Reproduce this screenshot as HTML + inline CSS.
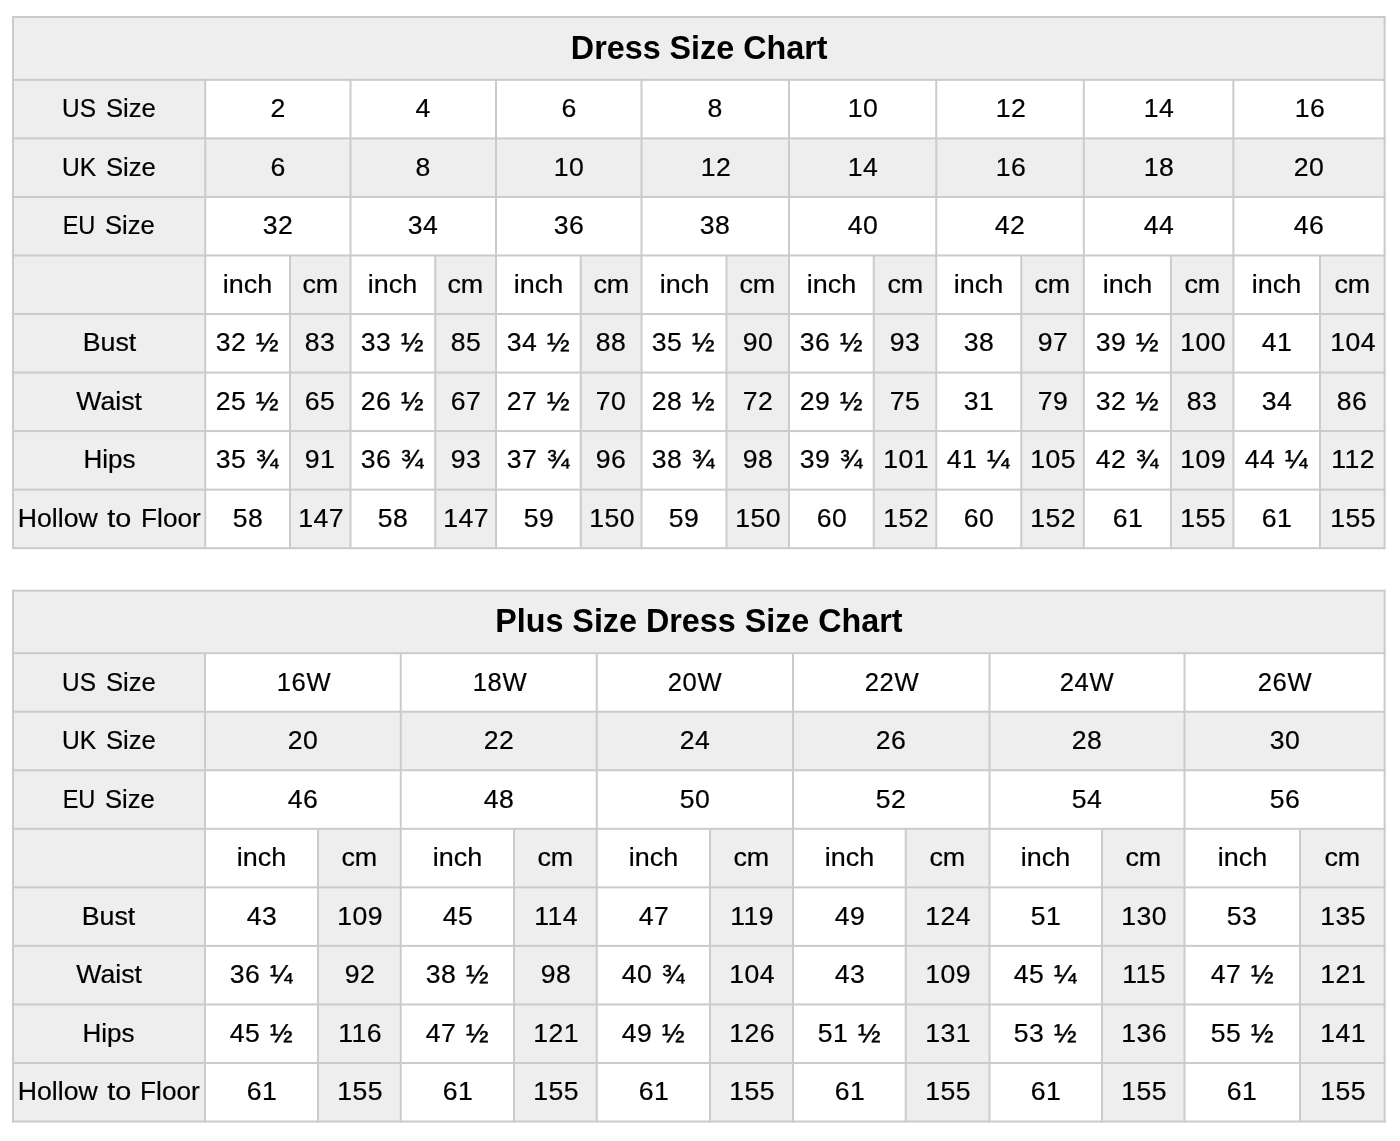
<!DOCTYPE html>
<html><head><meta charset="utf-8"><title>Dress Size Chart</title><style>
html,body{margin:0;padding:0;background:#fff}
body{width:1400px;height:1141px;position:relative;overflow:hidden;font-family:"Liberation Sans",sans-serif;color:#000}
.r,.c{position:absolute;overflow:hidden}
.tx,.tt{position:absolute;left:-50px;right:-50px;text-align:center;white-space:nowrap}
.tx{-webkit-text-stroke:0.2px #000;font-size:24.5px;line-height:30px;margin-top:-23.49px}
.tt{font-size:32px;line-height:40px;font-weight:bold;margin-top:-31.09px}
.w,.sp{display:inline-block;text-align:center;white-space:pre}
.g{display:inline-block;transform-origin:50% 23.49px;margin:0 -20px}
.tg{display:inline-block;transform:scale(1.009,1.06);transform-origin:50% 31.09px}
#pg{position:absolute;left:0;top:0;width:1400px;height:1141px;will-change:transform}
svg{position:absolute;left:0;top:0}
</style></head><body>
<div id="pg">
<div class="c" style="left:13px;top:17px;width:1371.6px;height:62.85px;background:#eeeeee"><span class="tt" style="top:41.70px"><span class="tg">Dress Size Chart</span></span></div>
<div class="c" style="left:13px;top:79.85px;width:192.25px;height:58.54px;background:#eeeeee"><span class="tx" style="top:37.80px"><span class="w" style="width:33.97px"><span class="g" style="transform:scale(0.9982,1.04)">US</span></span><span class="sp" style="width:9.40px"> </span><span class="w" style="width:49.90px"><span class="g" style="transform:scale(1.0470,1.04)">Size</span></span></span></div>
<div class="c" style="left:205.25px;top:79.85px;width:145.25px;height:58.54px;background:#ffffff"><span class="tx" style="top:37.80px"><span class="w" style="width:15.26px"><span class="g" style="transform:scale(1.0862,1.02);letter-spacing:0.421px;position:relative;left:0.23px">2</span></span></span></div>
<div class="c" style="left:350.5px;top:79.85px;width:145.5px;height:58.54px;background:#ffffff"><span class="tx" style="top:37.80px"><span class="w" style="width:15.26px"><span class="g" style="transform:scale(1.0862,1.02);letter-spacing:0.421px;position:relative;left:0.23px">4</span></span></span></div>
<div class="c" style="left:496px;top:79.85px;width:145.5px;height:58.54px;background:#ffffff"><span class="tx" style="top:37.80px"><span class="w" style="width:15.26px"><span class="g" style="transform:scale(1.0862,1.02);letter-spacing:0.421px;position:relative;left:0.23px">6</span></span></span></div>
<div class="c" style="left:641.5px;top:79.85px;width:147.5px;height:58.54px;background:#ffffff"><span class="tx" style="top:37.80px"><span class="w" style="width:15.26px"><span class="g" style="transform:scale(1.0862,1.02);letter-spacing:0.421px;position:relative;left:0.23px">8</span></span></span></div>
<div class="c" style="left:789px;top:79.85px;width:147.25px;height:58.54px;background:#ffffff"><span class="tx" style="top:37.80px"><span class="w" style="width:30.52px"><span class="g" style="transform:scale(1.0862,1.02);letter-spacing:0.421px;position:relative;left:0.73px">10</span></span></span></div>
<div class="c" style="left:936.25px;top:79.85px;width:147.55px;height:58.54px;background:#ffffff"><span class="tx" style="top:37.80px"><span class="w" style="width:30.52px"><span class="g" style="transform:scale(1.0862,1.02);letter-spacing:0.421px;position:relative;left:0.73px">12</span></span></span></div>
<div class="c" style="left:1083.8px;top:79.85px;width:149.6px;height:58.54px;background:#ffffff"><span class="tx" style="top:37.80px"><span class="w" style="width:30.52px"><span class="g" style="transform:scale(1.0862,1.02);letter-spacing:0.421px;position:relative;left:0.73px">14</span></span></span></div>
<div class="c" style="left:1233.4px;top:79.85px;width:151.2px;height:58.54px;background:#ffffff"><span class="tx" style="top:37.80px"><span class="w" style="width:30.52px"><span class="g" style="transform:scale(1.0862,1.02);letter-spacing:0.421px;position:relative;left:0.73px">16</span></span></span></div>
<div class="c" style="left:13px;top:138.39px;width:192.25px;height:58.54px;background:#eeeeee"><span class="tx" style="top:37.80px"><span class="w" style="width:34.20px"><span class="g" style="transform:scale(1.0047,1.04)">UK</span></span><span class="sp" style="width:9.40px"> </span><span class="w" style="width:49.90px"><span class="g" style="transform:scale(1.0470,1.04)">Size</span></span></span></div>
<div class="c" style="left:205.25px;top:138.39px;width:145.25px;height:58.54px;background:#eeeeee"><span class="tx" style="top:37.80px"><span class="w" style="width:15.26px"><span class="g" style="transform:scale(1.0862,1.02);letter-spacing:0.421px;position:relative;left:0.23px">6</span></span></span></div>
<div class="c" style="left:350.5px;top:138.39px;width:145.5px;height:58.54px;background:#eeeeee"><span class="tx" style="top:37.80px"><span class="w" style="width:15.26px"><span class="g" style="transform:scale(1.0862,1.02);letter-spacing:0.421px;position:relative;left:0.23px">8</span></span></span></div>
<div class="c" style="left:496px;top:138.39px;width:145.5px;height:58.54px;background:#eeeeee"><span class="tx" style="top:37.80px"><span class="w" style="width:30.52px"><span class="g" style="transform:scale(1.0862,1.02);letter-spacing:0.421px;position:relative;left:0.73px">10</span></span></span></div>
<div class="c" style="left:641.5px;top:138.39px;width:147.5px;height:58.54px;background:#eeeeee"><span class="tx" style="top:37.80px"><span class="w" style="width:30.52px"><span class="g" style="transform:scale(1.0862,1.02);letter-spacing:0.421px;position:relative;left:0.73px">12</span></span></span></div>
<div class="c" style="left:789px;top:138.39px;width:147.25px;height:58.54px;background:#eeeeee"><span class="tx" style="top:37.80px"><span class="w" style="width:30.52px"><span class="g" style="transform:scale(1.0862,1.02);letter-spacing:0.421px;position:relative;left:0.73px">14</span></span></span></div>
<div class="c" style="left:936.25px;top:138.39px;width:147.55px;height:58.54px;background:#eeeeee"><span class="tx" style="top:37.80px"><span class="w" style="width:30.52px"><span class="g" style="transform:scale(1.0862,1.02);letter-spacing:0.421px;position:relative;left:0.73px">16</span></span></span></div>
<div class="c" style="left:1083.8px;top:138.39px;width:149.6px;height:58.54px;background:#eeeeee"><span class="tx" style="top:37.80px"><span class="w" style="width:30.52px"><span class="g" style="transform:scale(1.0862,1.02);letter-spacing:0.421px;position:relative;left:0.73px">18</span></span></span></div>
<div class="c" style="left:1233.4px;top:138.39px;width:151.2px;height:58.54px;background:#eeeeee"><span class="tx" style="top:37.80px"><span class="w" style="width:30.52px"><span class="g" style="transform:scale(1.0862,1.02);letter-spacing:0.421px;position:relative;left:0.23px">20</span></span></span></div>
<div class="c" style="left:13px;top:196.93px;width:192.25px;height:58.54px;background:#eeeeee"><span class="tx" style="top:37.80px"><span class="w" style="width:32.74px"><span class="g" style="transform:scale(0.9620,1.04)">EU</span></span><span class="sp" style="width:9.40px"> </span><span class="w" style="width:49.90px"><span class="g" style="transform:scale(1.0470,1.04)">Size</span></span></span></div>
<div class="c" style="left:205.25px;top:196.93px;width:145.25px;height:58.54px;background:#ffffff"><span class="tx" style="top:37.80px"><span class="w" style="width:30.52px"><span class="g" style="transform:scale(1.0862,1.02);letter-spacing:0.421px;position:relative;left:0.23px">32</span></span></span></div>
<div class="c" style="left:350.5px;top:196.93px;width:145.5px;height:58.54px;background:#ffffff"><span class="tx" style="top:37.80px"><span class="w" style="width:30.52px"><span class="g" style="transform:scale(1.0862,1.02);letter-spacing:0.421px;position:relative;left:0.23px">34</span></span></span></div>
<div class="c" style="left:496px;top:196.93px;width:145.5px;height:58.54px;background:#ffffff"><span class="tx" style="top:37.80px"><span class="w" style="width:30.52px"><span class="g" style="transform:scale(1.0862,1.02);letter-spacing:0.421px;position:relative;left:0.23px">36</span></span></span></div>
<div class="c" style="left:641.5px;top:196.93px;width:147.5px;height:58.54px;background:#ffffff"><span class="tx" style="top:37.80px"><span class="w" style="width:30.52px"><span class="g" style="transform:scale(1.0862,1.02);letter-spacing:0.421px;position:relative;left:0.23px">38</span></span></span></div>
<div class="c" style="left:789px;top:196.93px;width:147.25px;height:58.54px;background:#ffffff"><span class="tx" style="top:37.80px"><span class="w" style="width:30.52px"><span class="g" style="transform:scale(1.0862,1.02);letter-spacing:0.421px;position:relative;left:0.23px">40</span></span></span></div>
<div class="c" style="left:936.25px;top:196.93px;width:147.55px;height:58.54px;background:#ffffff"><span class="tx" style="top:37.80px"><span class="w" style="width:30.52px"><span class="g" style="transform:scale(1.0862,1.02);letter-spacing:0.421px;position:relative;left:0.23px">42</span></span></span></div>
<div class="c" style="left:1083.8px;top:196.93px;width:149.6px;height:58.54px;background:#ffffff"><span class="tx" style="top:37.80px"><span class="w" style="width:30.52px"><span class="g" style="transform:scale(1.0862,1.02);letter-spacing:0.421px;position:relative;left:0.23px">44</span></span></span></div>
<div class="c" style="left:1233.4px;top:196.93px;width:151.2px;height:58.54px;background:#ffffff"><span class="tx" style="top:37.80px"><span class="w" style="width:30.52px"><span class="g" style="transform:scale(1.0862,1.02);letter-spacing:0.421px;position:relative;left:0.23px">46</span></span></span></div>
<div class="c" style="left:13px;top:255.47px;width:192.25px;height:58.54px;background:#eeeeee"></div>
<div class="c" style="left:205.25px;top:255.47px;width:84.75px;height:58.54px;background:#ffffff"><span class="tx" style="top:37.80px"><span class="w" style="width:49.46px"><span class="g" style="transform:scale(1.1006,1.04)">inch</span></span></span></div>
<div class="c" style="left:290px;top:255.47px;width:60.5px;height:58.54px;background:#eeeeee"><span class="tx" style="top:37.80px"><span class="w" style="width:35.85px"><span class="g" style="transform:scale(1.0976,1.04)">cm</span></span></span></div>
<div class="c" style="left:350.5px;top:255.47px;width:84.75px;height:58.54px;background:#ffffff"><span class="tx" style="top:37.80px"><span class="w" style="width:49.46px"><span class="g" style="transform:scale(1.1006,1.04)">inch</span></span></span></div>
<div class="c" style="left:435.25px;top:255.47px;width:60.75px;height:58.54px;background:#eeeeee"><span class="tx" style="top:37.80px"><span class="w" style="width:35.85px"><span class="g" style="transform:scale(1.0976,1.04)">cm</span></span></span></div>
<div class="c" style="left:496px;top:255.47px;width:84.75px;height:58.54px;background:#ffffff"><span class="tx" style="top:37.80px"><span class="w" style="width:49.46px"><span class="g" style="transform:scale(1.1006,1.04)">inch</span></span></span></div>
<div class="c" style="left:580.75px;top:255.47px;width:60.75px;height:58.54px;background:#eeeeee"><span class="tx" style="top:37.80px"><span class="w" style="width:35.85px"><span class="g" style="transform:scale(1.0976,1.04)">cm</span></span></span></div>
<div class="c" style="left:641.5px;top:255.47px;width:85px;height:58.54px;background:#ffffff"><span class="tx" style="top:37.80px"><span class="w" style="width:49.46px"><span class="g" style="transform:scale(1.1006,1.04)">inch</span></span></span></div>
<div class="c" style="left:726.5px;top:255.47px;width:62.5px;height:58.54px;background:#eeeeee"><span class="tx" style="top:37.80px"><span class="w" style="width:35.85px"><span class="g" style="transform:scale(1.0976,1.04)">cm</span></span></span></div>
<div class="c" style="left:789px;top:255.47px;width:84.75px;height:58.54px;background:#ffffff"><span class="tx" style="top:37.80px"><span class="w" style="width:49.46px"><span class="g" style="transform:scale(1.1006,1.04)">inch</span></span></span></div>
<div class="c" style="left:873.75px;top:255.47px;width:62.5px;height:58.54px;background:#eeeeee"><span class="tx" style="top:37.80px"><span class="w" style="width:35.85px"><span class="g" style="transform:scale(1.0976,1.04)">cm</span></span></span></div>
<div class="c" style="left:936.25px;top:255.47px;width:85px;height:58.54px;background:#ffffff"><span class="tx" style="top:37.80px"><span class="w" style="width:49.46px"><span class="g" style="transform:scale(1.1006,1.04)">inch</span></span></span></div>
<div class="c" style="left:1021.25px;top:255.47px;width:62.55px;height:58.54px;background:#eeeeee"><span class="tx" style="top:37.80px"><span class="w" style="width:35.85px"><span class="g" style="transform:scale(1.0976,1.04)">cm</span></span></span></div>
<div class="c" style="left:1083.8px;top:255.47px;width:87.1px;height:58.54px;background:#ffffff"><span class="tx" style="top:37.80px"><span class="w" style="width:49.46px"><span class="g" style="transform:scale(1.1006,1.04)">inch</span></span></span></div>
<div class="c" style="left:1170.9px;top:255.47px;width:62.5px;height:58.54px;background:#eeeeee"><span class="tx" style="top:37.80px"><span class="w" style="width:35.85px"><span class="g" style="transform:scale(1.0976,1.04)">cm</span></span></span></div>
<div class="c" style="left:1233.4px;top:255.47px;width:86.6px;height:58.54px;background:#ffffff"><span class="tx" style="top:37.80px"><span class="w" style="width:49.46px"><span class="g" style="transform:scale(1.1006,1.04)">inch</span></span></span></div>
<div class="c" style="left:1320px;top:255.47px;width:64.6px;height:58.54px;background:#eeeeee"><span class="tx" style="top:37.80px"><span class="w" style="width:35.85px"><span class="g" style="transform:scale(1.0976,1.04)">cm</span></span></span></div>
<div class="c" style="left:13px;top:314.01px;width:192.25px;height:58.54px;background:#eeeeee"><span class="tx" style="top:37.80px"><span class="w" style="width:53.60px"><span class="g" style="transform:scale(1.0934,1.04)">Bust</span></span></span></div>
<div class="c" style="left:205.25px;top:314.01px;width:84.75px;height:58.54px;background:#ffffff"><span class="tx" style="top:37.80px;margin-left:-1.2px"><span class="w" style="width:30.52px"><span class="g" style="transform:scale(1.0862,1.02);letter-spacing:0.421px;position:relative;left:0.23px">32</span></span><span class="sp" style="width:9.40px"> </span><span class="w" style="padding-left:0.4px;-webkit-text-stroke-width:0.45px;width:22.50px"><span class="g" style="transform:scale(1.1012,1.02)">½</span></span></span></div>
<div class="c" style="left:290px;top:314.01px;width:60.5px;height:58.54px;background:#eeeeee"><span class="tx" style="top:37.80px"><span class="w" style="width:30.52px"><span class="g" style="transform:scale(1.0862,1.02);letter-spacing:0.421px;position:relative;left:0.23px">83</span></span></span></div>
<div class="c" style="left:350.5px;top:314.01px;width:84.75px;height:58.54px;background:#ffffff"><span class="tx" style="top:37.80px;margin-left:-1.2px"><span class="w" style="width:30.52px"><span class="g" style="transform:scale(1.0862,1.02);letter-spacing:0.421px;position:relative;left:0.23px">33</span></span><span class="sp" style="width:9.40px"> </span><span class="w" style="padding-left:0.4px;-webkit-text-stroke-width:0.45px;width:22.50px"><span class="g" style="transform:scale(1.1012,1.02)">½</span></span></span></div>
<div class="c" style="left:435.25px;top:314.01px;width:60.75px;height:58.54px;background:#eeeeee"><span class="tx" style="top:37.80px"><span class="w" style="width:30.52px"><span class="g" style="transform:scale(1.0862,1.02);letter-spacing:0.421px;position:relative;left:0.23px">85</span></span></span></div>
<div class="c" style="left:496px;top:314.01px;width:84.75px;height:58.54px;background:#ffffff"><span class="tx" style="top:37.80px;margin-left:-1.2px"><span class="w" style="width:30.52px"><span class="g" style="transform:scale(1.0862,1.02);letter-spacing:0.421px;position:relative;left:0.23px">34</span></span><span class="sp" style="width:9.40px"> </span><span class="w" style="padding-left:0.4px;-webkit-text-stroke-width:0.45px;width:22.50px"><span class="g" style="transform:scale(1.1012,1.02)">½</span></span></span></div>
<div class="c" style="left:580.75px;top:314.01px;width:60.75px;height:58.54px;background:#eeeeee"><span class="tx" style="top:37.80px"><span class="w" style="width:30.52px"><span class="g" style="transform:scale(1.0862,1.02);letter-spacing:0.421px;position:relative;left:0.23px">88</span></span></span></div>
<div class="c" style="left:641.5px;top:314.01px;width:85px;height:58.54px;background:#ffffff"><span class="tx" style="top:37.80px;margin-left:-1.2px"><span class="w" style="width:30.52px"><span class="g" style="transform:scale(1.0862,1.02);letter-spacing:0.421px;position:relative;left:0.23px">35</span></span><span class="sp" style="width:9.40px"> </span><span class="w" style="padding-left:0.4px;-webkit-text-stroke-width:0.45px;width:22.50px"><span class="g" style="transform:scale(1.1012,1.02)">½</span></span></span></div>
<div class="c" style="left:726.5px;top:314.01px;width:62.5px;height:58.54px;background:#eeeeee"><span class="tx" style="top:37.80px"><span class="w" style="width:30.52px"><span class="g" style="transform:scale(1.0862,1.02);letter-spacing:0.421px;position:relative;left:0.23px">90</span></span></span></div>
<div class="c" style="left:789px;top:314.01px;width:84.75px;height:58.54px;background:#ffffff"><span class="tx" style="top:37.80px;margin-left:-1.2px"><span class="w" style="width:30.52px"><span class="g" style="transform:scale(1.0862,1.02);letter-spacing:0.421px;position:relative;left:0.23px">36</span></span><span class="sp" style="width:9.40px"> </span><span class="w" style="padding-left:0.4px;-webkit-text-stroke-width:0.45px;width:22.50px"><span class="g" style="transform:scale(1.1012,1.02)">½</span></span></span></div>
<div class="c" style="left:873.75px;top:314.01px;width:62.5px;height:58.54px;background:#eeeeee"><span class="tx" style="top:37.80px"><span class="w" style="width:30.52px"><span class="g" style="transform:scale(1.0862,1.02);letter-spacing:0.421px;position:relative;left:0.23px">93</span></span></span></div>
<div class="c" style="left:936.25px;top:314.01px;width:85px;height:58.54px;background:#ffffff"><span class="tx" style="top:37.80px"><span class="w" style="width:30.52px"><span class="g" style="transform:scale(1.0862,1.02);letter-spacing:0.421px;position:relative;left:0.23px">38</span></span></span></div>
<div class="c" style="left:1021.25px;top:314.01px;width:62.55px;height:58.54px;background:#eeeeee"><span class="tx" style="top:37.80px"><span class="w" style="width:30.52px"><span class="g" style="transform:scale(1.0862,1.02);letter-spacing:0.421px;position:relative;left:0.23px">97</span></span></span></div>
<div class="c" style="left:1083.8px;top:314.01px;width:87.1px;height:58.54px;background:#ffffff"><span class="tx" style="top:37.80px;margin-left:-1.2px"><span class="w" style="width:30.52px"><span class="g" style="transform:scale(1.0862,1.02);letter-spacing:0.421px;position:relative;left:0.23px">39</span></span><span class="sp" style="width:9.40px"> </span><span class="w" style="padding-left:0.4px;-webkit-text-stroke-width:0.45px;width:22.50px"><span class="g" style="transform:scale(1.1012,1.02)">½</span></span></span></div>
<div class="c" style="left:1170.9px;top:314.01px;width:62.5px;height:58.54px;background:#eeeeee"><span class="tx" style="top:37.80px"><span class="w" style="width:45.77px"><span class="g" style="transform:scale(1.0862,1.02);letter-spacing:0.421px;position:relative;left:0.73px">100</span></span></span></div>
<div class="c" style="left:1233.4px;top:314.01px;width:86.6px;height:58.54px;background:#ffffff"><span class="tx" style="top:37.80px"><span class="w" style="width:30.52px"><span class="g" style="transform:scale(1.0862,1.02);letter-spacing:0.421px;position:relative;left:0.23px">41</span></span></span></div>
<div class="c" style="left:1320px;top:314.01px;width:64.6px;height:58.54px;background:#eeeeee"><span class="tx" style="top:37.80px"><span class="w" style="width:45.77px"><span class="g" style="transform:scale(1.0862,1.02);letter-spacing:0.421px;position:relative;left:0.73px">104</span></span></span></div>
<div class="c" style="left:13px;top:372.55px;width:192.25px;height:58.54px;background:#eeeeee"><span class="tx" style="top:37.80px"><span class="w" style="width:66.69px"><span class="g" style="transform:scale(1.0888,1.04)">Waist</span></span></span></div>
<div class="c" style="left:205.25px;top:372.55px;width:84.75px;height:58.54px;background:#ffffff"><span class="tx" style="top:37.80px;margin-left:-1.2px"><span class="w" style="width:30.52px"><span class="g" style="transform:scale(1.0862,1.02);letter-spacing:0.421px;position:relative;left:0.23px">25</span></span><span class="sp" style="width:9.40px"> </span><span class="w" style="padding-left:0.4px;-webkit-text-stroke-width:0.45px;width:22.50px"><span class="g" style="transform:scale(1.1012,1.02)">½</span></span></span></div>
<div class="c" style="left:290px;top:372.55px;width:60.5px;height:58.54px;background:#eeeeee"><span class="tx" style="top:37.80px"><span class="w" style="width:30.52px"><span class="g" style="transform:scale(1.0862,1.02);letter-spacing:0.421px;position:relative;left:0.23px">65</span></span></span></div>
<div class="c" style="left:350.5px;top:372.55px;width:84.75px;height:58.54px;background:#ffffff"><span class="tx" style="top:37.80px;margin-left:-1.2px"><span class="w" style="width:30.52px"><span class="g" style="transform:scale(1.0862,1.02);letter-spacing:0.421px;position:relative;left:0.23px">26</span></span><span class="sp" style="width:9.40px"> </span><span class="w" style="padding-left:0.4px;-webkit-text-stroke-width:0.45px;width:22.50px"><span class="g" style="transform:scale(1.1012,1.02)">½</span></span></span></div>
<div class="c" style="left:435.25px;top:372.55px;width:60.75px;height:58.54px;background:#eeeeee"><span class="tx" style="top:37.80px"><span class="w" style="width:30.52px"><span class="g" style="transform:scale(1.0862,1.02);letter-spacing:0.421px;position:relative;left:0.23px">67</span></span></span></div>
<div class="c" style="left:496px;top:372.55px;width:84.75px;height:58.54px;background:#ffffff"><span class="tx" style="top:37.80px;margin-left:-1.2px"><span class="w" style="width:30.52px"><span class="g" style="transform:scale(1.0862,1.02);letter-spacing:0.421px;position:relative;left:0.23px">27</span></span><span class="sp" style="width:9.40px"> </span><span class="w" style="padding-left:0.4px;-webkit-text-stroke-width:0.45px;width:22.50px"><span class="g" style="transform:scale(1.1012,1.02)">½</span></span></span></div>
<div class="c" style="left:580.75px;top:372.55px;width:60.75px;height:58.54px;background:#eeeeee"><span class="tx" style="top:37.80px"><span class="w" style="width:30.52px"><span class="g" style="transform:scale(1.0862,1.02);letter-spacing:0.421px;position:relative;left:0.23px">70</span></span></span></div>
<div class="c" style="left:641.5px;top:372.55px;width:85px;height:58.54px;background:#ffffff"><span class="tx" style="top:37.80px;margin-left:-1.2px"><span class="w" style="width:30.52px"><span class="g" style="transform:scale(1.0862,1.02);letter-spacing:0.421px;position:relative;left:0.23px">28</span></span><span class="sp" style="width:9.40px"> </span><span class="w" style="padding-left:0.4px;-webkit-text-stroke-width:0.45px;width:22.50px"><span class="g" style="transform:scale(1.1012,1.02)">½</span></span></span></div>
<div class="c" style="left:726.5px;top:372.55px;width:62.5px;height:58.54px;background:#eeeeee"><span class="tx" style="top:37.80px"><span class="w" style="width:30.52px"><span class="g" style="transform:scale(1.0862,1.02);letter-spacing:0.421px;position:relative;left:0.23px">72</span></span></span></div>
<div class="c" style="left:789px;top:372.55px;width:84.75px;height:58.54px;background:#ffffff"><span class="tx" style="top:37.80px;margin-left:-1.2px"><span class="w" style="width:30.52px"><span class="g" style="transform:scale(1.0862,1.02);letter-spacing:0.421px;position:relative;left:0.23px">29</span></span><span class="sp" style="width:9.40px"> </span><span class="w" style="padding-left:0.4px;-webkit-text-stroke-width:0.45px;width:22.50px"><span class="g" style="transform:scale(1.1012,1.02)">½</span></span></span></div>
<div class="c" style="left:873.75px;top:372.55px;width:62.5px;height:58.54px;background:#eeeeee"><span class="tx" style="top:37.80px"><span class="w" style="width:30.52px"><span class="g" style="transform:scale(1.0862,1.02);letter-spacing:0.421px;position:relative;left:0.23px">75</span></span></span></div>
<div class="c" style="left:936.25px;top:372.55px;width:85px;height:58.54px;background:#ffffff"><span class="tx" style="top:37.80px"><span class="w" style="width:30.52px"><span class="g" style="transform:scale(1.0862,1.02);letter-spacing:0.421px;position:relative;left:0.23px">31</span></span></span></div>
<div class="c" style="left:1021.25px;top:372.55px;width:62.55px;height:58.54px;background:#eeeeee"><span class="tx" style="top:37.80px"><span class="w" style="width:30.52px"><span class="g" style="transform:scale(1.0862,1.02);letter-spacing:0.421px;position:relative;left:0.23px">79</span></span></span></div>
<div class="c" style="left:1083.8px;top:372.55px;width:87.1px;height:58.54px;background:#ffffff"><span class="tx" style="top:37.80px;margin-left:-1.2px"><span class="w" style="width:30.52px"><span class="g" style="transform:scale(1.0862,1.02);letter-spacing:0.421px;position:relative;left:0.23px">32</span></span><span class="sp" style="width:9.40px"> </span><span class="w" style="padding-left:0.4px;-webkit-text-stroke-width:0.45px;width:22.50px"><span class="g" style="transform:scale(1.1012,1.02)">½</span></span></span></div>
<div class="c" style="left:1170.9px;top:372.55px;width:62.5px;height:58.54px;background:#eeeeee"><span class="tx" style="top:37.80px"><span class="w" style="width:30.52px"><span class="g" style="transform:scale(1.0862,1.02);letter-spacing:0.421px;position:relative;left:0.23px">83</span></span></span></div>
<div class="c" style="left:1233.4px;top:372.55px;width:86.6px;height:58.54px;background:#ffffff"><span class="tx" style="top:37.80px"><span class="w" style="width:30.52px"><span class="g" style="transform:scale(1.0862,1.02);letter-spacing:0.421px;position:relative;left:0.23px">34</span></span></span></div>
<div class="c" style="left:1320px;top:372.55px;width:64.6px;height:58.54px;background:#eeeeee"><span class="tx" style="top:37.80px"><span class="w" style="width:30.52px"><span class="g" style="transform:scale(1.0862,1.02);letter-spacing:0.421px;position:relative;left:0.23px">86</span></span></span></div>
<div class="c" style="left:13px;top:431.09px;width:192.25px;height:58.54px;background:#eeeeee"><span class="tx" style="top:37.80px"><span class="w" style="width:52.08px"><span class="g" style="transform:scale(1.0626,1.04)">Hips</span></span></span></div>
<div class="c" style="left:205.25px;top:431.09px;width:84.75px;height:58.54px;background:#ffffff"><span class="tx" style="top:37.80px;margin-left:-1.2px"><span class="w" style="width:30.52px"><span class="g" style="transform:scale(1.0862,1.02);letter-spacing:0.421px;position:relative;left:0.23px">35</span></span><span class="sp" style="width:9.40px"> </span><span class="w" style="padding-left:0.4px;-webkit-text-stroke-width:0.45px;width:22.50px"><span class="g" style="transform:scale(1.1012,1.02)">¾</span></span></span></div>
<div class="c" style="left:290px;top:431.09px;width:60.5px;height:58.54px;background:#eeeeee"><span class="tx" style="top:37.80px"><span class="w" style="width:30.52px"><span class="g" style="transform:scale(1.0862,1.02);letter-spacing:0.421px;position:relative;left:0.23px">91</span></span></span></div>
<div class="c" style="left:350.5px;top:431.09px;width:84.75px;height:58.54px;background:#ffffff"><span class="tx" style="top:37.80px;margin-left:-1.2px"><span class="w" style="width:30.52px"><span class="g" style="transform:scale(1.0862,1.02);letter-spacing:0.421px;position:relative;left:0.23px">36</span></span><span class="sp" style="width:9.40px"> </span><span class="w" style="padding-left:0.4px;-webkit-text-stroke-width:0.45px;width:22.50px"><span class="g" style="transform:scale(1.1012,1.02)">¾</span></span></span></div>
<div class="c" style="left:435.25px;top:431.09px;width:60.75px;height:58.54px;background:#eeeeee"><span class="tx" style="top:37.80px"><span class="w" style="width:30.52px"><span class="g" style="transform:scale(1.0862,1.02);letter-spacing:0.421px;position:relative;left:0.23px">93</span></span></span></div>
<div class="c" style="left:496px;top:431.09px;width:84.75px;height:58.54px;background:#ffffff"><span class="tx" style="top:37.80px;margin-left:-1.2px"><span class="w" style="width:30.52px"><span class="g" style="transform:scale(1.0862,1.02);letter-spacing:0.421px;position:relative;left:0.23px">37</span></span><span class="sp" style="width:9.40px"> </span><span class="w" style="padding-left:0.4px;-webkit-text-stroke-width:0.45px;width:22.50px"><span class="g" style="transform:scale(1.1012,1.02)">¾</span></span></span></div>
<div class="c" style="left:580.75px;top:431.09px;width:60.75px;height:58.54px;background:#eeeeee"><span class="tx" style="top:37.80px"><span class="w" style="width:30.52px"><span class="g" style="transform:scale(1.0862,1.02);letter-spacing:0.421px;position:relative;left:0.23px">96</span></span></span></div>
<div class="c" style="left:641.5px;top:431.09px;width:85px;height:58.54px;background:#ffffff"><span class="tx" style="top:37.80px;margin-left:-1.2px"><span class="w" style="width:30.52px"><span class="g" style="transform:scale(1.0862,1.02);letter-spacing:0.421px;position:relative;left:0.23px">38</span></span><span class="sp" style="width:9.40px"> </span><span class="w" style="padding-left:0.4px;-webkit-text-stroke-width:0.45px;width:22.50px"><span class="g" style="transform:scale(1.1012,1.02)">¾</span></span></span></div>
<div class="c" style="left:726.5px;top:431.09px;width:62.5px;height:58.54px;background:#eeeeee"><span class="tx" style="top:37.80px"><span class="w" style="width:30.52px"><span class="g" style="transform:scale(1.0862,1.02);letter-spacing:0.421px;position:relative;left:0.23px">98</span></span></span></div>
<div class="c" style="left:789px;top:431.09px;width:84.75px;height:58.54px;background:#ffffff"><span class="tx" style="top:37.80px;margin-left:-1.2px"><span class="w" style="width:30.52px"><span class="g" style="transform:scale(1.0862,1.02);letter-spacing:0.421px;position:relative;left:0.23px">39</span></span><span class="sp" style="width:9.40px"> </span><span class="w" style="padding-left:0.4px;-webkit-text-stroke-width:0.45px;width:22.50px"><span class="g" style="transform:scale(1.1012,1.02)">¾</span></span></span></div>
<div class="c" style="left:873.75px;top:431.09px;width:62.5px;height:58.54px;background:#eeeeee"><span class="tx" style="top:37.80px"><span class="w" style="width:45.77px"><span class="g" style="transform:scale(1.0862,1.02);letter-spacing:0.421px;position:relative;left:0.73px">101</span></span></span></div>
<div class="c" style="left:936.25px;top:431.09px;width:85px;height:58.54px;background:#ffffff"><span class="tx" style="top:37.80px;margin-left:-1.2px"><span class="w" style="width:30.52px"><span class="g" style="transform:scale(1.0862,1.02);letter-spacing:0.421px;position:relative;left:0.23px">41</span></span><span class="sp" style="width:9.40px"> </span><span class="w" style="padding-left:0.4px;-webkit-text-stroke-width:0.45px;width:22.50px"><span class="g" style="transform:scale(1.1012,1.02)">¼</span></span></span></div>
<div class="c" style="left:1021.25px;top:431.09px;width:62.55px;height:58.54px;background:#eeeeee"><span class="tx" style="top:37.80px"><span class="w" style="width:45.77px"><span class="g" style="transform:scale(1.0862,1.02);letter-spacing:0.421px;position:relative;left:0.73px">105</span></span></span></div>
<div class="c" style="left:1083.8px;top:431.09px;width:87.1px;height:58.54px;background:#ffffff"><span class="tx" style="top:37.80px;margin-left:-1.2px"><span class="w" style="width:30.52px"><span class="g" style="transform:scale(1.0862,1.02);letter-spacing:0.421px;position:relative;left:0.23px">42</span></span><span class="sp" style="width:9.40px"> </span><span class="w" style="padding-left:0.4px;-webkit-text-stroke-width:0.45px;width:22.50px"><span class="g" style="transform:scale(1.1012,1.02)">¾</span></span></span></div>
<div class="c" style="left:1170.9px;top:431.09px;width:62.5px;height:58.54px;background:#eeeeee"><span class="tx" style="top:37.80px"><span class="w" style="width:45.77px"><span class="g" style="transform:scale(1.0862,1.02);letter-spacing:0.421px;position:relative;left:0.73px">109</span></span></span></div>
<div class="c" style="left:1233.4px;top:431.09px;width:86.6px;height:58.54px;background:#ffffff"><span class="tx" style="top:37.80px;margin-left:-1.2px"><span class="w" style="width:30.52px"><span class="g" style="transform:scale(1.0862,1.02);letter-spacing:0.421px;position:relative;left:0.23px">44</span></span><span class="sp" style="width:9.40px"> </span><span class="w" style="padding-left:0.4px;-webkit-text-stroke-width:0.45px;width:22.50px"><span class="g" style="transform:scale(1.1012,1.02)">¼</span></span></span></div>
<div class="c" style="left:1320px;top:431.09px;width:64.6px;height:58.54px;background:#eeeeee"><span class="tx" style="top:37.80px"><span class="w" style="width:45.77px"><span class="g" style="transform:scale(1.0862,1.02);letter-spacing:0.421px;position:relative;left:0.73px">112</span></span></span></div>
<div class="c" style="left:13px;top:489.63px;width:192.25px;height:58.54px;background:#eeeeee"><span class="tx" style="top:37.80px"><span class="w" style="width:79.98px"><span class="g" style="transform:scale(1.0878,1.04)">Hollow</span></span><span class="sp" style="width:9.40px"> </span><span class="w" style="width:24.02px"><span class="g" style="transform:scale(1.1757,1.04)">to</span></span><span class="sp" style="width:9.40px"> </span><span class="w" style="width:59.75px"><span class="g" style="transform:scale(1.0705,1.04)">Floor</span></span></span></div>
<div class="c" style="left:205.25px;top:489.63px;width:84.75px;height:58.54px;background:#ffffff"><span class="tx" style="top:37.80px"><span class="w" style="width:30.52px"><span class="g" style="transform:scale(1.0862,1.02);letter-spacing:0.421px;position:relative;left:0.23px">58</span></span></span></div>
<div class="c" style="left:290px;top:489.63px;width:60.5px;height:58.54px;background:#eeeeee"><span class="tx" style="top:37.80px"><span class="w" style="width:45.77px"><span class="g" style="transform:scale(1.0862,1.02);letter-spacing:0.421px;position:relative;left:0.73px">147</span></span></span></div>
<div class="c" style="left:350.5px;top:489.63px;width:84.75px;height:58.54px;background:#ffffff"><span class="tx" style="top:37.80px"><span class="w" style="width:30.52px"><span class="g" style="transform:scale(1.0862,1.02);letter-spacing:0.421px;position:relative;left:0.23px">58</span></span></span></div>
<div class="c" style="left:435.25px;top:489.63px;width:60.75px;height:58.54px;background:#eeeeee"><span class="tx" style="top:37.80px"><span class="w" style="width:45.77px"><span class="g" style="transform:scale(1.0862,1.02);letter-spacing:0.421px;position:relative;left:0.73px">147</span></span></span></div>
<div class="c" style="left:496px;top:489.63px;width:84.75px;height:58.54px;background:#ffffff"><span class="tx" style="top:37.80px"><span class="w" style="width:30.52px"><span class="g" style="transform:scale(1.0862,1.02);letter-spacing:0.421px;position:relative;left:0.23px">59</span></span></span></div>
<div class="c" style="left:580.75px;top:489.63px;width:60.75px;height:58.54px;background:#eeeeee"><span class="tx" style="top:37.80px"><span class="w" style="width:45.77px"><span class="g" style="transform:scale(1.0862,1.02);letter-spacing:0.421px;position:relative;left:0.73px">150</span></span></span></div>
<div class="c" style="left:641.5px;top:489.63px;width:85px;height:58.54px;background:#ffffff"><span class="tx" style="top:37.80px"><span class="w" style="width:30.52px"><span class="g" style="transform:scale(1.0862,1.02);letter-spacing:0.421px;position:relative;left:0.23px">59</span></span></span></div>
<div class="c" style="left:726.5px;top:489.63px;width:62.5px;height:58.54px;background:#eeeeee"><span class="tx" style="top:37.80px"><span class="w" style="width:45.77px"><span class="g" style="transform:scale(1.0862,1.02);letter-spacing:0.421px;position:relative;left:0.73px">150</span></span></span></div>
<div class="c" style="left:789px;top:489.63px;width:84.75px;height:58.54px;background:#ffffff"><span class="tx" style="top:37.80px"><span class="w" style="width:30.52px"><span class="g" style="transform:scale(1.0862,1.02);letter-spacing:0.421px;position:relative;left:0.23px">60</span></span></span></div>
<div class="c" style="left:873.75px;top:489.63px;width:62.5px;height:58.54px;background:#eeeeee"><span class="tx" style="top:37.80px"><span class="w" style="width:45.77px"><span class="g" style="transform:scale(1.0862,1.02);letter-spacing:0.421px;position:relative;left:0.73px">152</span></span></span></div>
<div class="c" style="left:936.25px;top:489.63px;width:85px;height:58.54px;background:#ffffff"><span class="tx" style="top:37.80px"><span class="w" style="width:30.52px"><span class="g" style="transform:scale(1.0862,1.02);letter-spacing:0.421px;position:relative;left:0.23px">60</span></span></span></div>
<div class="c" style="left:1021.25px;top:489.63px;width:62.55px;height:58.54px;background:#eeeeee"><span class="tx" style="top:37.80px"><span class="w" style="width:45.77px"><span class="g" style="transform:scale(1.0862,1.02);letter-spacing:0.421px;position:relative;left:0.73px">152</span></span></span></div>
<div class="c" style="left:1083.8px;top:489.63px;width:87.1px;height:58.54px;background:#ffffff"><span class="tx" style="top:37.80px"><span class="w" style="width:30.52px"><span class="g" style="transform:scale(1.0862,1.02);letter-spacing:0.421px;position:relative;left:0.23px">61</span></span></span></div>
<div class="c" style="left:1170.9px;top:489.63px;width:62.5px;height:58.54px;background:#eeeeee"><span class="tx" style="top:37.80px"><span class="w" style="width:45.77px"><span class="g" style="transform:scale(1.0862,1.02);letter-spacing:0.421px;position:relative;left:0.73px">155</span></span></span></div>
<div class="c" style="left:1233.4px;top:489.63px;width:86.6px;height:58.54px;background:#ffffff"><span class="tx" style="top:37.80px"><span class="w" style="width:30.52px"><span class="g" style="transform:scale(1.0862,1.02);letter-spacing:0.421px;position:relative;left:0.23px">61</span></span></span></div>
<div class="c" style="left:1320px;top:489.63px;width:64.6px;height:58.54px;background:#eeeeee"><span class="tx" style="top:37.80px"><span class="w" style="width:45.77px"><span class="g" style="transform:scale(1.0862,1.02);letter-spacing:0.421px;position:relative;left:0.73px">155</span></span></span></div>
<div class="c" style="left:13px;top:590.7px;width:1371.6px;height:62.5px;background:#eeeeee"><span class="tt" style="top:41.70px"><span class="tg">Plus Size Dress Size Chart</span></span></div>
<div class="c" style="left:13px;top:653.2px;width:192px;height:58.54px;background:#eeeeee"><span class="tx" style="top:37.80px"><span class="w" style="width:33.97px"><span class="g" style="transform:scale(0.9982,1.04)">US</span></span><span class="sp" style="width:9.40px"> </span><span class="w" style="width:49.90px"><span class="g" style="transform:scale(1.0470,1.04)">Size</span></span></span></div>
<div class="c" style="left:205px;top:653.2px;width:195.75px;height:58.54px;background:#ffffff"><span class="tx" style="top:37.80px"><span class="w" style="width:54.25px"><span class="g" style="transform:scale(1.0445,1.02);letter-spacing:0.519px;position:relative;left:0.77px">16W</span></span></span></div>
<div class="c" style="left:400.75px;top:653.2px;width:196px;height:58.54px;background:#ffffff"><span class="tx" style="top:37.80px"><span class="w" style="width:54.25px"><span class="g" style="transform:scale(1.0445,1.02);letter-spacing:0.519px;position:relative;left:0.77px">18W</span></span></span></div>
<div class="c" style="left:596.75px;top:653.2px;width:196.25px;height:58.54px;background:#ffffff"><span class="tx" style="top:37.80px"><span class="w" style="width:54.25px"><span class="g" style="transform:scale(1.0445,1.02);letter-spacing:0.519px;position:relative;left:0.27px">20W</span></span></span></div>
<div class="c" style="left:793px;top:653.2px;width:196.5px;height:58.54px;background:#ffffff"><span class="tx" style="top:37.80px"><span class="w" style="width:54.25px"><span class="g" style="transform:scale(1.0445,1.02);letter-spacing:0.519px;position:relative;left:0.27px">22W</span></span></span></div>
<div class="c" style="left:989.5px;top:653.2px;width:195px;height:58.54px;background:#ffffff"><span class="tx" style="top:37.80px"><span class="w" style="width:54.25px"><span class="g" style="transform:scale(1.0445,1.02);letter-spacing:0.519px;position:relative;left:0.27px">24W</span></span></span></div>
<div class="c" style="left:1184.5px;top:653.2px;width:200.1px;height:58.54px;background:#ffffff"><span class="tx" style="top:37.80px"><span class="w" style="width:54.25px"><span class="g" style="transform:scale(1.0445,1.02);letter-spacing:0.519px;position:relative;left:0.27px">26W</span></span></span></div>
<div class="c" style="left:13px;top:711.74px;width:192px;height:58.54px;background:#eeeeee"><span class="tx" style="top:37.80px"><span class="w" style="width:34.20px"><span class="g" style="transform:scale(1.0047,1.04)">UK</span></span><span class="sp" style="width:9.40px"> </span><span class="w" style="width:49.90px"><span class="g" style="transform:scale(1.0470,1.04)">Size</span></span></span></div>
<div class="c" style="left:205px;top:711.74px;width:195.75px;height:58.54px;background:#eeeeee"><span class="tx" style="top:37.80px"><span class="w" style="width:30.52px"><span class="g" style="transform:scale(1.0862,1.02);letter-spacing:0.421px;position:relative;left:0.23px">20</span></span></span></div>
<div class="c" style="left:400.75px;top:711.74px;width:196px;height:58.54px;background:#eeeeee"><span class="tx" style="top:37.80px"><span class="w" style="width:30.52px"><span class="g" style="transform:scale(1.0862,1.02);letter-spacing:0.421px;position:relative;left:0.23px">22</span></span></span></div>
<div class="c" style="left:596.75px;top:711.74px;width:196.25px;height:58.54px;background:#eeeeee"><span class="tx" style="top:37.80px"><span class="w" style="width:30.52px"><span class="g" style="transform:scale(1.0862,1.02);letter-spacing:0.421px;position:relative;left:0.23px">24</span></span></span></div>
<div class="c" style="left:793px;top:711.74px;width:196.5px;height:58.54px;background:#eeeeee"><span class="tx" style="top:37.80px"><span class="w" style="width:30.52px"><span class="g" style="transform:scale(1.0862,1.02);letter-spacing:0.421px;position:relative;left:0.23px">26</span></span></span></div>
<div class="c" style="left:989.5px;top:711.74px;width:195px;height:58.54px;background:#eeeeee"><span class="tx" style="top:37.80px"><span class="w" style="width:30.52px"><span class="g" style="transform:scale(1.0862,1.02);letter-spacing:0.421px;position:relative;left:0.23px">28</span></span></span></div>
<div class="c" style="left:1184.5px;top:711.74px;width:200.1px;height:58.54px;background:#eeeeee"><span class="tx" style="top:37.80px"><span class="w" style="width:30.52px"><span class="g" style="transform:scale(1.0862,1.02);letter-spacing:0.421px;position:relative;left:0.23px">30</span></span></span></div>
<div class="c" style="left:13px;top:770.28px;width:192px;height:58.54px;background:#eeeeee"><span class="tx" style="top:37.80px"><span class="w" style="width:32.74px"><span class="g" style="transform:scale(0.9620,1.04)">EU</span></span><span class="sp" style="width:9.40px"> </span><span class="w" style="width:49.90px"><span class="g" style="transform:scale(1.0470,1.04)">Size</span></span></span></div>
<div class="c" style="left:205px;top:770.28px;width:195.75px;height:58.54px;background:#ffffff"><span class="tx" style="top:37.80px"><span class="w" style="width:30.52px"><span class="g" style="transform:scale(1.0862,1.02);letter-spacing:0.421px;position:relative;left:0.23px">46</span></span></span></div>
<div class="c" style="left:400.75px;top:770.28px;width:196px;height:58.54px;background:#ffffff"><span class="tx" style="top:37.80px"><span class="w" style="width:30.52px"><span class="g" style="transform:scale(1.0862,1.02);letter-spacing:0.421px;position:relative;left:0.23px">48</span></span></span></div>
<div class="c" style="left:596.75px;top:770.28px;width:196.25px;height:58.54px;background:#ffffff"><span class="tx" style="top:37.80px"><span class="w" style="width:30.52px"><span class="g" style="transform:scale(1.0862,1.02);letter-spacing:0.421px;position:relative;left:0.23px">50</span></span></span></div>
<div class="c" style="left:793px;top:770.28px;width:196.5px;height:58.54px;background:#ffffff"><span class="tx" style="top:37.80px"><span class="w" style="width:30.52px"><span class="g" style="transform:scale(1.0862,1.02);letter-spacing:0.421px;position:relative;left:0.23px">52</span></span></span></div>
<div class="c" style="left:989.5px;top:770.28px;width:195px;height:58.54px;background:#ffffff"><span class="tx" style="top:37.80px"><span class="w" style="width:30.52px"><span class="g" style="transform:scale(1.0862,1.02);letter-spacing:0.421px;position:relative;left:0.23px">54</span></span></span></div>
<div class="c" style="left:1184.5px;top:770.28px;width:200.1px;height:58.54px;background:#ffffff"><span class="tx" style="top:37.80px"><span class="w" style="width:30.52px"><span class="g" style="transform:scale(1.0862,1.02);letter-spacing:0.421px;position:relative;left:0.23px">56</span></span></span></div>
<div class="c" style="left:13px;top:828.82px;width:192px;height:58.54px;background:#eeeeee"></div>
<div class="c" style="left:205px;top:828.82px;width:113px;height:58.54px;background:#ffffff"><span class="tx" style="top:37.80px"><span class="w" style="width:49.46px"><span class="g" style="transform:scale(1.1006,1.04)">inch</span></span></span></div>
<div class="c" style="left:318px;top:828.82px;width:82.75px;height:58.54px;background:#eeeeee"><span class="tx" style="top:37.80px"><span class="w" style="width:35.85px"><span class="g" style="transform:scale(1.0976,1.04)">cm</span></span></span></div>
<div class="c" style="left:400.75px;top:828.82px;width:113.25px;height:58.54px;background:#ffffff"><span class="tx" style="top:37.80px"><span class="w" style="width:49.46px"><span class="g" style="transform:scale(1.1006,1.04)">inch</span></span></span></div>
<div class="c" style="left:514px;top:828.82px;width:82.75px;height:58.54px;background:#eeeeee"><span class="tx" style="top:37.80px"><span class="w" style="width:35.85px"><span class="g" style="transform:scale(1.0976,1.04)">cm</span></span></span></div>
<div class="c" style="left:596.75px;top:828.82px;width:113.25px;height:58.54px;background:#ffffff"><span class="tx" style="top:37.80px"><span class="w" style="width:49.46px"><span class="g" style="transform:scale(1.1006,1.04)">inch</span></span></span></div>
<div class="c" style="left:710px;top:828.82px;width:83px;height:58.54px;background:#eeeeee"><span class="tx" style="top:37.80px"><span class="w" style="width:35.85px"><span class="g" style="transform:scale(1.0976,1.04)">cm</span></span></span></div>
<div class="c" style="left:793px;top:828.82px;width:112.75px;height:58.54px;background:#ffffff"><span class="tx" style="top:37.80px"><span class="w" style="width:49.46px"><span class="g" style="transform:scale(1.1006,1.04)">inch</span></span></span></div>
<div class="c" style="left:905.75px;top:828.82px;width:83.75px;height:58.54px;background:#eeeeee"><span class="tx" style="top:37.80px"><span class="w" style="width:35.85px"><span class="g" style="transform:scale(1.0976,1.04)">cm</span></span></span></div>
<div class="c" style="left:989.5px;top:828.82px;width:112.5px;height:58.54px;background:#ffffff"><span class="tx" style="top:37.80px"><span class="w" style="width:49.46px"><span class="g" style="transform:scale(1.1006,1.04)">inch</span></span></span></div>
<div class="c" style="left:1102px;top:828.82px;width:82.5px;height:58.54px;background:#eeeeee"><span class="tx" style="top:37.80px"><span class="w" style="width:35.85px"><span class="g" style="transform:scale(1.0976,1.04)">cm</span></span></span></div>
<div class="c" style="left:1184.5px;top:828.82px;width:115.5px;height:58.54px;background:#ffffff"><span class="tx" style="top:37.80px"><span class="w" style="width:49.46px"><span class="g" style="transform:scale(1.1006,1.04)">inch</span></span></span></div>
<div class="c" style="left:1300px;top:828.82px;width:84.6px;height:58.54px;background:#eeeeee"><span class="tx" style="top:37.80px"><span class="w" style="width:35.85px"><span class="g" style="transform:scale(1.0976,1.04)">cm</span></span></span></div>
<div class="c" style="left:13px;top:887.36px;width:192px;height:58.54px;background:#eeeeee"><span class="tx" style="top:37.80px"><span class="w" style="width:53.60px"><span class="g" style="transform:scale(1.0934,1.04)">Bust</span></span></span></div>
<div class="c" style="left:205px;top:887.36px;width:113px;height:58.54px;background:#ffffff"><span class="tx" style="top:37.80px"><span class="w" style="width:30.52px"><span class="g" style="transform:scale(1.0862,1.02);letter-spacing:0.421px;position:relative;left:0.23px">43</span></span></span></div>
<div class="c" style="left:318px;top:887.36px;width:82.75px;height:58.54px;background:#eeeeee"><span class="tx" style="top:37.80px"><span class="w" style="width:45.77px"><span class="g" style="transform:scale(1.0862,1.02);letter-spacing:0.421px;position:relative;left:0.73px">109</span></span></span></div>
<div class="c" style="left:400.75px;top:887.36px;width:113.25px;height:58.54px;background:#ffffff"><span class="tx" style="top:37.80px"><span class="w" style="width:30.52px"><span class="g" style="transform:scale(1.0862,1.02);letter-spacing:0.421px;position:relative;left:0.23px">45</span></span></span></div>
<div class="c" style="left:514px;top:887.36px;width:82.75px;height:58.54px;background:#eeeeee"><span class="tx" style="top:37.80px"><span class="w" style="width:45.77px"><span class="g" style="transform:scale(1.0862,1.02);letter-spacing:0.421px;position:relative;left:0.73px">114</span></span></span></div>
<div class="c" style="left:596.75px;top:887.36px;width:113.25px;height:58.54px;background:#ffffff"><span class="tx" style="top:37.80px"><span class="w" style="width:30.52px"><span class="g" style="transform:scale(1.0862,1.02);letter-spacing:0.421px;position:relative;left:0.23px">47</span></span></span></div>
<div class="c" style="left:710px;top:887.36px;width:83px;height:58.54px;background:#eeeeee"><span class="tx" style="top:37.80px"><span class="w" style="width:45.77px"><span class="g" style="transform:scale(1.0862,1.02);letter-spacing:0.421px;position:relative;left:0.73px">119</span></span></span></div>
<div class="c" style="left:793px;top:887.36px;width:112.75px;height:58.54px;background:#ffffff"><span class="tx" style="top:37.80px"><span class="w" style="width:30.52px"><span class="g" style="transform:scale(1.0862,1.02);letter-spacing:0.421px;position:relative;left:0.23px">49</span></span></span></div>
<div class="c" style="left:905.75px;top:887.36px;width:83.75px;height:58.54px;background:#eeeeee"><span class="tx" style="top:37.80px"><span class="w" style="width:45.77px"><span class="g" style="transform:scale(1.0862,1.02);letter-spacing:0.421px;position:relative;left:0.73px">124</span></span></span></div>
<div class="c" style="left:989.5px;top:887.36px;width:112.5px;height:58.54px;background:#ffffff"><span class="tx" style="top:37.80px"><span class="w" style="width:30.52px"><span class="g" style="transform:scale(1.0862,1.02);letter-spacing:0.421px;position:relative;left:0.23px">51</span></span></span></div>
<div class="c" style="left:1102px;top:887.36px;width:82.5px;height:58.54px;background:#eeeeee"><span class="tx" style="top:37.80px"><span class="w" style="width:45.77px"><span class="g" style="transform:scale(1.0862,1.02);letter-spacing:0.421px;position:relative;left:0.73px">130</span></span></span></div>
<div class="c" style="left:1184.5px;top:887.36px;width:115.5px;height:58.54px;background:#ffffff"><span class="tx" style="top:37.80px"><span class="w" style="width:30.52px"><span class="g" style="transform:scale(1.0862,1.02);letter-spacing:0.421px;position:relative;left:0.23px">53</span></span></span></div>
<div class="c" style="left:1300px;top:887.36px;width:84.6px;height:58.54px;background:#eeeeee"><span class="tx" style="top:37.80px"><span class="w" style="width:45.77px"><span class="g" style="transform:scale(1.0862,1.02);letter-spacing:0.421px;position:relative;left:0.73px">135</span></span></span></div>
<div class="c" style="left:13px;top:945.9px;width:192px;height:58.54px;background:#eeeeee"><span class="tx" style="top:37.80px"><span class="w" style="width:66.69px"><span class="g" style="transform:scale(1.0888,1.04)">Waist</span></span></span></div>
<div class="c" style="left:205px;top:945.9px;width:113px;height:58.54px;background:#ffffff"><span class="tx" style="top:37.80px;margin-left:-1.2px"><span class="w" style="width:30.52px"><span class="g" style="transform:scale(1.0862,1.02);letter-spacing:0.421px;position:relative;left:0.23px">36</span></span><span class="sp" style="width:9.40px"> </span><span class="w" style="padding-left:0.4px;-webkit-text-stroke-width:0.45px;width:22.50px"><span class="g" style="transform:scale(1.1012,1.02)">¼</span></span></span></div>
<div class="c" style="left:318px;top:945.9px;width:82.75px;height:58.54px;background:#eeeeee"><span class="tx" style="top:37.80px"><span class="w" style="width:30.52px"><span class="g" style="transform:scale(1.0862,1.02);letter-spacing:0.421px;position:relative;left:0.23px">92</span></span></span></div>
<div class="c" style="left:400.75px;top:945.9px;width:113.25px;height:58.54px;background:#ffffff"><span class="tx" style="top:37.80px;margin-left:-1.2px"><span class="w" style="width:30.52px"><span class="g" style="transform:scale(1.0862,1.02);letter-spacing:0.421px;position:relative;left:0.23px">38</span></span><span class="sp" style="width:9.40px"> </span><span class="w" style="padding-left:0.4px;-webkit-text-stroke-width:0.45px;width:22.50px"><span class="g" style="transform:scale(1.1012,1.02)">½</span></span></span></div>
<div class="c" style="left:514px;top:945.9px;width:82.75px;height:58.54px;background:#eeeeee"><span class="tx" style="top:37.80px"><span class="w" style="width:30.52px"><span class="g" style="transform:scale(1.0862,1.02);letter-spacing:0.421px;position:relative;left:0.23px">98</span></span></span></div>
<div class="c" style="left:596.75px;top:945.9px;width:113.25px;height:58.54px;background:#ffffff"><span class="tx" style="top:37.80px;margin-left:-1.2px"><span class="w" style="width:30.52px"><span class="g" style="transform:scale(1.0862,1.02);letter-spacing:0.421px;position:relative;left:0.23px">40</span></span><span class="sp" style="width:9.40px"> </span><span class="w" style="padding-left:0.4px;-webkit-text-stroke-width:0.45px;width:22.50px"><span class="g" style="transform:scale(1.1012,1.02)">¾</span></span></span></div>
<div class="c" style="left:710px;top:945.9px;width:83px;height:58.54px;background:#eeeeee"><span class="tx" style="top:37.80px"><span class="w" style="width:45.77px"><span class="g" style="transform:scale(1.0862,1.02);letter-spacing:0.421px;position:relative;left:0.73px">104</span></span></span></div>
<div class="c" style="left:793px;top:945.9px;width:112.75px;height:58.54px;background:#ffffff"><span class="tx" style="top:37.80px"><span class="w" style="width:30.52px"><span class="g" style="transform:scale(1.0862,1.02);letter-spacing:0.421px;position:relative;left:0.23px">43</span></span></span></div>
<div class="c" style="left:905.75px;top:945.9px;width:83.75px;height:58.54px;background:#eeeeee"><span class="tx" style="top:37.80px"><span class="w" style="width:45.77px"><span class="g" style="transform:scale(1.0862,1.02);letter-spacing:0.421px;position:relative;left:0.73px">109</span></span></span></div>
<div class="c" style="left:989.5px;top:945.9px;width:112.5px;height:58.54px;background:#ffffff"><span class="tx" style="top:37.80px;margin-left:-1.2px"><span class="w" style="width:30.52px"><span class="g" style="transform:scale(1.0862,1.02);letter-spacing:0.421px;position:relative;left:0.23px">45</span></span><span class="sp" style="width:9.40px"> </span><span class="w" style="padding-left:0.4px;-webkit-text-stroke-width:0.45px;width:22.50px"><span class="g" style="transform:scale(1.1012,1.02)">¼</span></span></span></div>
<div class="c" style="left:1102px;top:945.9px;width:82.5px;height:58.54px;background:#eeeeee"><span class="tx" style="top:37.80px"><span class="w" style="width:45.77px"><span class="g" style="transform:scale(1.0862,1.02);letter-spacing:0.421px;position:relative;left:0.73px">115</span></span></span></div>
<div class="c" style="left:1184.5px;top:945.9px;width:115.5px;height:58.54px;background:#ffffff"><span class="tx" style="top:37.80px;margin-left:-1.2px"><span class="w" style="width:30.52px"><span class="g" style="transform:scale(1.0862,1.02);letter-spacing:0.421px;position:relative;left:0.23px">47</span></span><span class="sp" style="width:9.40px"> </span><span class="w" style="padding-left:0.4px;-webkit-text-stroke-width:0.45px;width:22.50px"><span class="g" style="transform:scale(1.1012,1.02)">½</span></span></span></div>
<div class="c" style="left:1300px;top:945.9px;width:84.6px;height:58.54px;background:#eeeeee"><span class="tx" style="top:37.80px"><span class="w" style="width:45.77px"><span class="g" style="transform:scale(1.0862,1.02);letter-spacing:0.421px;position:relative;left:0.73px">121</span></span></span></div>
<div class="c" style="left:13px;top:1004.44px;width:192px;height:58.54px;background:#eeeeee"><span class="tx" style="top:37.80px"><span class="w" style="width:52.08px"><span class="g" style="transform:scale(1.0626,1.04)">Hips</span></span></span></div>
<div class="c" style="left:205px;top:1004.44px;width:113px;height:58.54px;background:#ffffff"><span class="tx" style="top:37.80px;margin-left:-1.2px"><span class="w" style="width:30.52px"><span class="g" style="transform:scale(1.0862,1.02);letter-spacing:0.421px;position:relative;left:0.23px">45</span></span><span class="sp" style="width:9.40px"> </span><span class="w" style="padding-left:0.4px;-webkit-text-stroke-width:0.45px;width:22.50px"><span class="g" style="transform:scale(1.1012,1.02)">½</span></span></span></div>
<div class="c" style="left:318px;top:1004.44px;width:82.75px;height:58.54px;background:#eeeeee"><span class="tx" style="top:37.80px"><span class="w" style="width:45.77px"><span class="g" style="transform:scale(1.0862,1.02);letter-spacing:0.421px;position:relative;left:0.73px">116</span></span></span></div>
<div class="c" style="left:400.75px;top:1004.44px;width:113.25px;height:58.54px;background:#ffffff"><span class="tx" style="top:37.80px;margin-left:-1.2px"><span class="w" style="width:30.52px"><span class="g" style="transform:scale(1.0862,1.02);letter-spacing:0.421px;position:relative;left:0.23px">47</span></span><span class="sp" style="width:9.40px"> </span><span class="w" style="padding-left:0.4px;-webkit-text-stroke-width:0.45px;width:22.50px"><span class="g" style="transform:scale(1.1012,1.02)">½</span></span></span></div>
<div class="c" style="left:514px;top:1004.44px;width:82.75px;height:58.54px;background:#eeeeee"><span class="tx" style="top:37.80px"><span class="w" style="width:45.77px"><span class="g" style="transform:scale(1.0862,1.02);letter-spacing:0.421px;position:relative;left:0.73px">121</span></span></span></div>
<div class="c" style="left:596.75px;top:1004.44px;width:113.25px;height:58.54px;background:#ffffff"><span class="tx" style="top:37.80px;margin-left:-1.2px"><span class="w" style="width:30.52px"><span class="g" style="transform:scale(1.0862,1.02);letter-spacing:0.421px;position:relative;left:0.23px">49</span></span><span class="sp" style="width:9.40px"> </span><span class="w" style="padding-left:0.4px;-webkit-text-stroke-width:0.45px;width:22.50px"><span class="g" style="transform:scale(1.1012,1.02)">½</span></span></span></div>
<div class="c" style="left:710px;top:1004.44px;width:83px;height:58.54px;background:#eeeeee"><span class="tx" style="top:37.80px"><span class="w" style="width:45.77px"><span class="g" style="transform:scale(1.0862,1.02);letter-spacing:0.421px;position:relative;left:0.73px">126</span></span></span></div>
<div class="c" style="left:793px;top:1004.44px;width:112.75px;height:58.54px;background:#ffffff"><span class="tx" style="top:37.80px;margin-left:-1.2px"><span class="w" style="width:30.52px"><span class="g" style="transform:scale(1.0862,1.02);letter-spacing:0.421px;position:relative;left:0.23px">51</span></span><span class="sp" style="width:9.40px"> </span><span class="w" style="padding-left:0.4px;-webkit-text-stroke-width:0.45px;width:22.50px"><span class="g" style="transform:scale(1.1012,1.02)">½</span></span></span></div>
<div class="c" style="left:905.75px;top:1004.44px;width:83.75px;height:58.54px;background:#eeeeee"><span class="tx" style="top:37.80px"><span class="w" style="width:45.77px"><span class="g" style="transform:scale(1.0862,1.02);letter-spacing:0.421px;position:relative;left:0.73px">131</span></span></span></div>
<div class="c" style="left:989.5px;top:1004.44px;width:112.5px;height:58.54px;background:#ffffff"><span class="tx" style="top:37.80px;margin-left:-1.2px"><span class="w" style="width:30.52px"><span class="g" style="transform:scale(1.0862,1.02);letter-spacing:0.421px;position:relative;left:0.23px">53</span></span><span class="sp" style="width:9.40px"> </span><span class="w" style="padding-left:0.4px;-webkit-text-stroke-width:0.45px;width:22.50px"><span class="g" style="transform:scale(1.1012,1.02)">½</span></span></span></div>
<div class="c" style="left:1102px;top:1004.44px;width:82.5px;height:58.54px;background:#eeeeee"><span class="tx" style="top:37.80px"><span class="w" style="width:45.77px"><span class="g" style="transform:scale(1.0862,1.02);letter-spacing:0.421px;position:relative;left:0.73px">136</span></span></span></div>
<div class="c" style="left:1184.5px;top:1004.44px;width:115.5px;height:58.54px;background:#ffffff"><span class="tx" style="top:37.80px;margin-left:-1.2px"><span class="w" style="width:30.52px"><span class="g" style="transform:scale(1.0862,1.02);letter-spacing:0.421px;position:relative;left:0.23px">55</span></span><span class="sp" style="width:9.40px"> </span><span class="w" style="padding-left:0.4px;-webkit-text-stroke-width:0.45px;width:22.50px"><span class="g" style="transform:scale(1.1012,1.02)">½</span></span></span></div>
<div class="c" style="left:1300px;top:1004.44px;width:84.6px;height:58.54px;background:#eeeeee"><span class="tx" style="top:37.80px"><span class="w" style="width:45.77px"><span class="g" style="transform:scale(1.0862,1.02);letter-spacing:0.421px;position:relative;left:0.73px">141</span></span></span></div>
<div class="c" style="left:13px;top:1062.98px;width:192px;height:58.54px;background:#eeeeee"><span class="tx" style="top:37.80px"><span class="w" style="width:79.98px"><span class="g" style="transform:scale(1.0878,1.04)">Hollow</span></span><span class="sp" style="width:9.40px"> </span><span class="w" style="width:24.02px"><span class="g" style="transform:scale(1.1757,1.04)">to</span></span><span class="sp" style="width:9.40px"> </span><span class="w" style="width:59.75px"><span class="g" style="transform:scale(1.0705,1.04)">Floor</span></span></span></div>
<div class="c" style="left:205px;top:1062.98px;width:113px;height:58.54px;background:#ffffff"><span class="tx" style="top:37.80px"><span class="w" style="width:30.52px"><span class="g" style="transform:scale(1.0862,1.02);letter-spacing:0.421px;position:relative;left:0.23px">61</span></span></span></div>
<div class="c" style="left:318px;top:1062.98px;width:82.75px;height:58.54px;background:#eeeeee"><span class="tx" style="top:37.80px"><span class="w" style="width:45.77px"><span class="g" style="transform:scale(1.0862,1.02);letter-spacing:0.421px;position:relative;left:0.73px">155</span></span></span></div>
<div class="c" style="left:400.75px;top:1062.98px;width:113.25px;height:58.54px;background:#ffffff"><span class="tx" style="top:37.80px"><span class="w" style="width:30.52px"><span class="g" style="transform:scale(1.0862,1.02);letter-spacing:0.421px;position:relative;left:0.23px">61</span></span></span></div>
<div class="c" style="left:514px;top:1062.98px;width:82.75px;height:58.54px;background:#eeeeee"><span class="tx" style="top:37.80px"><span class="w" style="width:45.77px"><span class="g" style="transform:scale(1.0862,1.02);letter-spacing:0.421px;position:relative;left:0.73px">155</span></span></span></div>
<div class="c" style="left:596.75px;top:1062.98px;width:113.25px;height:58.54px;background:#ffffff"><span class="tx" style="top:37.80px"><span class="w" style="width:30.52px"><span class="g" style="transform:scale(1.0862,1.02);letter-spacing:0.421px;position:relative;left:0.23px">61</span></span></span></div>
<div class="c" style="left:710px;top:1062.98px;width:83px;height:58.54px;background:#eeeeee"><span class="tx" style="top:37.80px"><span class="w" style="width:45.77px"><span class="g" style="transform:scale(1.0862,1.02);letter-spacing:0.421px;position:relative;left:0.73px">155</span></span></span></div>
<div class="c" style="left:793px;top:1062.98px;width:112.75px;height:58.54px;background:#ffffff"><span class="tx" style="top:37.80px"><span class="w" style="width:30.52px"><span class="g" style="transform:scale(1.0862,1.02);letter-spacing:0.421px;position:relative;left:0.23px">61</span></span></span></div>
<div class="c" style="left:905.75px;top:1062.98px;width:83.75px;height:58.54px;background:#eeeeee"><span class="tx" style="top:37.80px"><span class="w" style="width:45.77px"><span class="g" style="transform:scale(1.0862,1.02);letter-spacing:0.421px;position:relative;left:0.73px">155</span></span></span></div>
<div class="c" style="left:989.5px;top:1062.98px;width:112.5px;height:58.54px;background:#ffffff"><span class="tx" style="top:37.80px"><span class="w" style="width:30.52px"><span class="g" style="transform:scale(1.0862,1.02);letter-spacing:0.421px;position:relative;left:0.23px">61</span></span></span></div>
<div class="c" style="left:1102px;top:1062.98px;width:82.5px;height:58.54px;background:#eeeeee"><span class="tx" style="top:37.80px"><span class="w" style="width:45.77px"><span class="g" style="transform:scale(1.0862,1.02);letter-spacing:0.421px;position:relative;left:0.73px">155</span></span></span></div>
<div class="c" style="left:1184.5px;top:1062.98px;width:115.5px;height:58.54px;background:#ffffff"><span class="tx" style="top:37.80px"><span class="w" style="width:30.52px"><span class="g" style="transform:scale(1.0862,1.02);letter-spacing:0.421px;position:relative;left:0.23px">61</span></span></span></div>
<div class="c" style="left:1300px;top:1062.98px;width:84.6px;height:58.54px;background:#eeeeee"><span class="tx" style="top:37.80px"><span class="w" style="width:45.77px"><span class="g" style="transform:scale(1.0862,1.02);letter-spacing:0.421px;position:relative;left:0.73px">155</span></span></span></div>
<svg width="1400" height="1141" viewBox="0 0 1400 1141" fill="#cbcbcb"><rect x="12" y="16" width="1373.6" height="2"/><rect x="12" y="78.85" width="1373.6" height="2"/><rect x="12" y="137.39" width="1373.6" height="2"/><rect x="12" y="195.93" width="1373.6" height="2"/><rect x="12" y="254.47" width="1373.6" height="2"/><rect x="12" y="313.01" width="1373.6" height="2"/><rect x="12" y="371.55" width="1373.6" height="2"/><rect x="12" y="430.09" width="1373.6" height="2"/><rect x="12" y="488.63" width="1373.6" height="2"/><rect x="12" y="547.17" width="1373.6" height="2"/><rect x="12" y="16" width="2" height="533.17"/><rect x="204.25" y="79.85" width="2" height="469.32"/><rect x="289" y="255.47" width="2" height="293.7"/><rect x="349.5" y="79.85" width="2" height="469.32"/><rect x="434.25" y="255.47" width="2" height="293.7"/><rect x="495" y="79.85" width="2" height="469.32"/><rect x="579.75" y="255.47" width="2" height="293.7"/><rect x="640.5" y="79.85" width="2" height="469.32"/><rect x="725.5" y="255.47" width="2" height="293.7"/><rect x="788" y="79.85" width="2" height="469.32"/><rect x="872.75" y="255.47" width="2" height="293.7"/><rect x="935.25" y="79.85" width="2" height="469.32"/><rect x="1020.25" y="255.47" width="2" height="293.7"/><rect x="1082.8" y="79.85" width="2" height="469.32"/><rect x="1169.9" y="255.47" width="2" height="293.7"/><rect x="1232.4" y="79.85" width="2" height="469.32"/><rect x="1319" y="255.47" width="2" height="293.7"/><rect x="1383.6" y="16" width="2" height="533.17"/><rect x="12" y="589.7" width="1373.6" height="2"/><rect x="12" y="652.2" width="1373.6" height="2"/><rect x="12" y="710.74" width="1373.6" height="2"/><rect x="12" y="769.28" width="1373.6" height="2"/><rect x="12" y="827.82" width="1373.6" height="2"/><rect x="12" y="886.36" width="1373.6" height="2"/><rect x="12" y="944.9" width="1373.6" height="2"/><rect x="12" y="1003.44" width="1373.6" height="2"/><rect x="12" y="1061.98" width="1373.6" height="2"/><rect x="12" y="1120.52" width="1373.6" height="2"/><rect x="12" y="589.7" width="2" height="532.82"/><rect x="204" y="653.2" width="2" height="469.32"/><rect x="317" y="828.82" width="2" height="293.7"/><rect x="399.75" y="653.2" width="2" height="469.32"/><rect x="513" y="828.82" width="2" height="293.7"/><rect x="595.75" y="653.2" width="2" height="469.32"/><rect x="709" y="828.82" width="2" height="293.7"/><rect x="792" y="653.2" width="2" height="469.32"/><rect x="904.75" y="828.82" width="2" height="293.7"/><rect x="988.5" y="653.2" width="2" height="469.32"/><rect x="1101" y="828.82" width="2" height="293.7"/><rect x="1183.5" y="653.2" width="2" height="469.32"/><rect x="1299" y="828.82" width="2" height="293.7"/><rect x="1383.6" y="589.7" width="2" height="532.82"/></svg>
</div>
</body></html>
